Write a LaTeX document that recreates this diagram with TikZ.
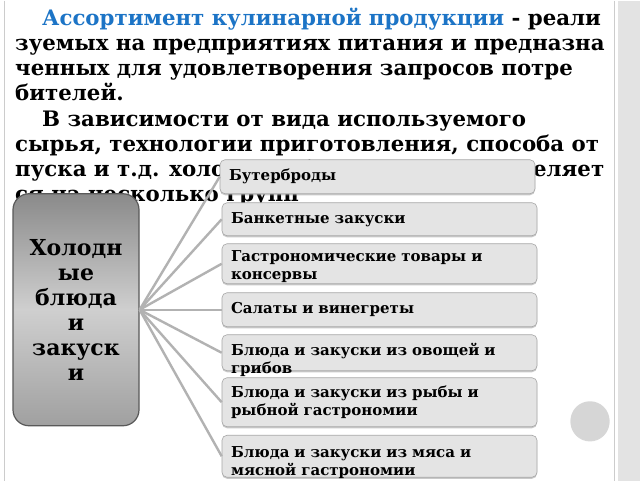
\documentclass[tikz,border=0pt]{standalone}
\usepackage{fontspec}
\setmainfont{DejaVu Serif}
\usetikzlibrary{positioning}
\usetikzlibrary{shadows}
\definecolor{titleblue}{HTML}{1C74C6}
\definecolor{ctop}{HTML}{8A8A8A}
\definecolor{cmid}{HTML}{CFCFCF}
\definecolor{cbot}{HTML}{A0A0A0}
\definecolor{boxfill}{HTML}{E4E4E4}
\definecolor{boxline}{HTML}{A6A6A6}
\definecolor{stripgray}{HTML}{E3E3E3}
\tikzset{
    mytext/.style = {anchor=base west, inner sep=0pt, font=\fontsize{21.3}{25}\selectfont\bfseries, text=black},
    mycenter/.style = {rounded corners=16pt, draw=black!65, line width=1.2pt, top color=ctop, bottom color=cbot, middle color=cmid, minimum width=126pt, minimum height=232pt, align=center, font=\fontsize{22}{25}\selectfont\bfseries, text=black},
    mybox/.style = {rounded corners=5pt, draw=boxline, fill=boxfill, line width=0.6pt, minimum width=315pt, text width=297pt, inner xsep=9pt, align=left, font=\fontsize{15}{18}\selectfont\bfseries, text=black, drop shadow={shadow xshift=0pt, shadow yshift=-1.5pt, fill=black!35, opacity=0.6}},
    mydot/.style = {circle, fill=black!16, minimum size=39pt, inner sep=0pt, drop shadow={shadow xshift=0pt, shadow yshift=-1.2pt, fill=black!30, opacity=0.5}},
    edgeg/.style = {-, line width=2.4pt, black!30}, % connector
}

\begin{document}
\begin{tikzpicture}[x=1pt, y=-1pt]
%
\fill[white] (0,0) rectangle (640,480);
\fill[stripgray] (618,0) rectangle (640,480);
\draw[black!20, line width=1.5pt] (4.5,0) -- (4.5,480);
\draw[black!20, line width=1pt] (614,0) -- (614,480);
%
\node[mytext] at (42,25) (l1) {{\color{titleblue}Ассортимент кулинарной продукции} - реали};
\node[mytext] at (15,50) (l2) {зуемых на предприятиях питания и предназна};
\node[mytext] at (15,75) (l3) {ченных для удовлетворения запросов потре};
\node[mytext] at (15,100) (l4) {бителей.};
\node[mytext] at (42,125.5) (l5) {В зависимости от вида используемого};
\node[mytext] at (15,150.5) (l6) {сырья, технологии приготовления, способа от};
\node[mytext] at (15,175.5) (l7) {\hbox to 589pt{пуска и т.д. холодные блюда \hfill подразделяет}};
\node[mytext] at (15,200.5) (l8) {ся на несколько групп};
%
\node[mycenter] at (76,309) (cold) {Холодн\\ые\\блюда\\и\\закуск\\и};
%
\node[mybox, minimum width=312pt, minimum height=34pt] at (377.5,176) (b1) {Бутерброды};
\node[mybox, minimum height=33pt] at (379.5,218.5) (b2) {Банкетные закуски};
\node[mybox, minimum height=40pt, text height=11pt, text depth=16pt] at (379.5,263) (b3) {Гастрономические товары и консервы};
\node[mybox, minimum height=34pt] at (379.5,309) (b4) {Салаты и винегреты};
\node[mybox, minimum height=36pt, text height=11pt, text depth=5pt] at (379.5,352) (b5) {Блюда и закуски из овощей и грибов};
\node[mybox, minimum height=49pt] at (379.5,401.5) (b6) {Блюда и закуски из рыбы и рыбной гастрономии};
\node[mybox, minimum height=42pt, text height=11pt, text depth=8pt] at (379.5,455.5) (b7) {Блюда и закуски из мяса и мясной гастрономии};
%
\node[mydot] at (590,420) (dot) {};
%
\foreach \b in {b1,b2,b3,b4,b5,b6,b7}
    \draw[edgeg] (cold.east) -- (\b.west);

\path[use as bounding box] (0,0) rectangle (640,480);

\end{tikzpicture}
\end{document}
